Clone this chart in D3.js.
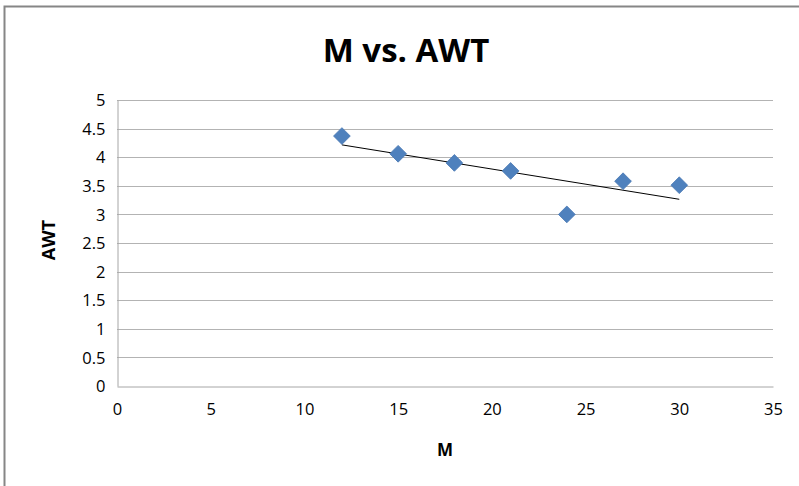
<!DOCTYPE html>
<html>
<head>
<meta charset="utf-8">
<script src="https://cdn.jsdelivr.net/npm/d3@7"></script>
<style>
  html, body { margin: 0; padding: 0; background: #fff; }
  svg { display: block; font-family: "Open Sans", "Noto Sans", sans-serif; }
</style>
</head>
<body>
<svg id="chart" width="799" height="486"></svg>
<script>
// M values and average waiting time
const mValues = [12, 15, 18, 21, 24, 27, 30];
const awtValues = [4.37, 4.06, 3.9, 3.76, 3.0, 3.58, 3.51];
const xTicks = [0, 5, 10, 15, 20, 25, 30, 35];
const yTicks = [0, 0.5, 1, 1.5, 2, 2.5, 3, 3.5, 4, 4.5, 5];

const svg = d3.select("#chart");
const W = 799, H = 486;
const plot = { left: 117, right: 773, top: 100, bottom: 386 };

// chart frame
svg.append("rect")
  .attr("x", 4.5).attr("y", 6.5)
  .attr("width", W + 10).attr("height", H + 10)
  .attr("fill", "#fff").attr("stroke", "#868686").attr("stroke-width", 2);

const x = d3.scaleLinear().domain([0, 35]).range([plot.left, plot.right]);
const y = d3.scaleLinear().domain([0, 5]).range([plot.bottom, plot.top]);

// horizontal gridlines
svg.append("g")
  .selectAll("line")
  .data(yTicks.filter(d => d > 0))
  .join("line")
  .attr("x1", plot.left).attr("x2", plot.right)
  .attr("y1", d => Math.round(y(d)) + 0.5).attr("y2", d => Math.round(y(d)) + 0.5)
  .attr("stroke", "#b3b3b3").attr("stroke-width", 1);

// axes
const xAxis = svg.append("g")
  .attr("transform", `translate(0,${plot.bottom + 0.5})`)
  .call(d3.axisBottom(x).tickValues(xTicks).tickSize(0).tickPadding(17).tickFormat(d3.format("d")));
const yAxis = svg.append("g")
  .attr("transform", `translate(${plot.left + 0.5},0)`)
  .call(d3.axisLeft(y).tickValues(yTicks).tickSize(0).tickPadding(12).tickFormat(d => String(d)));

[xAxis, yAxis].forEach(g => {
  g.select(".domain").attr("stroke", "#a6a6a6").attr("stroke-width", 1);
  g.selectAll("text").attr("fill", "#000").style("font-size", "16.5px")
    .style("font-family", "'Open Sans', sans-serif");
});
yAxis.selectAll("text").attr("dy", "0.35em");

// least-squares trend line
const mx = d3.mean(mValues), my = d3.mean(awtValues);
const slope = d3.sum(mValues, (v, i) => (v - mx) * (awtValues[i] - my)) /
              d3.sum(mValues, v => (v - mx) * (v - mx));
const intercept = my - slope * mx;
const x0 = d3.min(mValues), x1 = d3.max(mValues);
svg.append("line")
  .attr("x1", x(x0)).attr("y1", y(intercept + slope * x0))
  .attr("x2", x(x1)).attr("y2", y(intercept + slope * x1))
  .attr("stroke", "#000").attr("stroke-width", 1);

// data markers (diamonds)
const diamond = d3.symbol().type(d3.symbolSquare).size(140);
svg.append("g")
  .selectAll("path")
  .data(mValues.map((m, i) => ({ m, a: awtValues[i] })))
  .join("path")
  .attr("d", diamond)
  .attr("transform", d => `translate(${x(d.m)},${y(d.a)}) rotate(45)`)
  .attr("fill", "#4f81bd").attr("stroke", "#4a7ab5").attr("stroke-width", 0.8);

// title
svg.append("text")
  .attr("x", 406).attr("y", 62)
  .attr("text-anchor", "middle")
  .style("font-size", "33px").style("font-weight", "bold")
  .text("M vs. AWT");

// axis titles
svg.append("text")
  .attr("x", 445).attr("y", 456)
  .attr("text-anchor", "middle")
  .style("font-size", "17px").style("font-weight", "bold")
  .text("M");
svg.append("text")
  .attr("transform", "translate(55,240) rotate(-90)")
  .attr("text-anchor", "middle")
  .style("font-size", "18px").style("font-weight", "bold")
  .text("AWT");
</script>
</body>
</html>
